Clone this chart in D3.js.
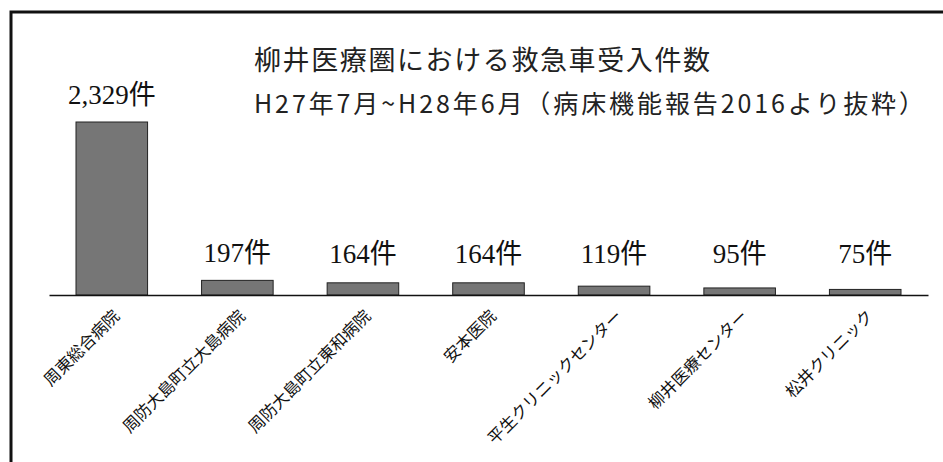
<!DOCTYPE html>
<html>
<head>
<meta charset="utf-8">
<script src="https://cdn.jsdelivr.net/npm/d3@7/dist/d3.min.js"></script>
<style>
  body { margin: 0; background: #fff; }
  svg { display: block; }
</style>
</head>
<body>
<svg width="943" height="462"></svg>
<script>
// chart data
var categories = ["周東総合病院", "周防大島町立大島病院", "周防大島町立東和病院", "安本医院",
    "平生クリニックセンター", "柳井医療センター", "松井クリニック"];
var values = [2329, 197, 164, 164, 119, 95, 75];
var valueLabels = ["2,329件", "197件", "164件", "164件", "119件", "95件", "75件"];
var title = "柳井医療圏における救急車受入件数";
var subtitle = "H27年7月~H28年6月（病床機能報告2016より抜粋）";

var svg = d3.select("svg"),
    width = +svg.attr("width"),
    height = +svg.attr("height");

var baseY = 295;
var gothic = "'Noto Sans CJK JP', 'Noto Sans', sans-serif";
var mincho = "'Liberation Serif', 'DejaVu Serif', 'Noto Sans CJK JP', serif";

var x = d3.scaleBand()
    .domain(categories)
    .range([49, 928])
    .paddingInner(0.43)
    .paddingOuter(0.215);

var y = d3.scaleLinear()
    .domain([0, d3.max(values)])
    .range([baseY, 122]);

var rows = categories.map(function (c, i) {
    return { name: c, value: values[i], label: valueLabels[i] };
});

// frame (scanned page border, top and left only)
svg.append("path")
    .attr("d", "M 11 " + height + " L 11 12 L " + width + " 12")
    .attr("fill", "none")
    .attr("stroke", "#111")
    .attr("stroke-width", 3);

// titles
svg.append("text")
    .attr("x", 254)
    .attr("y", 70)
    .attr("font-family", gothic)
    .attr("font-size", "27px")
    .attr("fill", "#222")
    .attr("textLength", 456)
    .attr("lengthAdjust", "spacing")
    .text(title);

svg.append("text")
    .attr("x", 254)
    .attr("y", 113)
    .attr("font-family", gothic)
    .attr("font-size", "25px")
    .attr("fill", "#222")
    .attr("textLength", 670)
    .attr("lengthAdjust", "spacing")
    .text(subtitle);

// bars
svg.selectAll(".bar")
    .data(rows)
    .enter()
    .append("rect")
    .attr("class", "bar")
    .attr("x", function (d) { return x(d.name); })
    .attr("y", function (d) { return y(d.value); })
    .attr("width", x.bandwidth())
    .attr("height", function (d) { return baseY - y(d.value); })
    .attr("fill", "#767676")
    .attr("stroke", "#222")
    .attr("stroke-width", 1);

// baseline axis
var axis = svg.append("g")
    .attr("transform", "translate(0," + baseY + ")")
    .call(d3.axisBottom(x).tickSize(0).tickFormat(""));
axis.select(".domain")
    .attr("stroke", "#111")
    .attr("stroke-width", 1.6);

// value labels
svg.selectAll(".value")
    .data(rows)
    .enter()
    .append("text")
    .attr("class", "value")
    .attr("x", function (d) { return x(d.name) + x.bandwidth() / 2; })
    .attr("y", function (d) { return Math.min(y(d.value) - 18, 263); })
    .attr("text-anchor", "middle")
    .attr("font-family", mincho)
    .attr("font-size", "27px")
    .attr("fill", "#111")
    .text(function (d) { return d.label; });

// rotated category labels
svg.selectAll(".cat")
    .data(rows)
    .enter()
    .append("text")
    .attr("class", "cat")
    .attr("transform", function (d) {
        var cx = x(d.name) + x.bandwidth() / 2;
        return "translate(" + (cx + 9) + "," + (baseY + 22) + ") rotate(-45)";
    })
    .attr("text-anchor", "end")
    .attr("font-family", gothic)
    .attr("font-size", "16.5px")
    .attr("fill", "#111")
    .text(function (d) { return d.name; });
</script>
</body>
</html>
